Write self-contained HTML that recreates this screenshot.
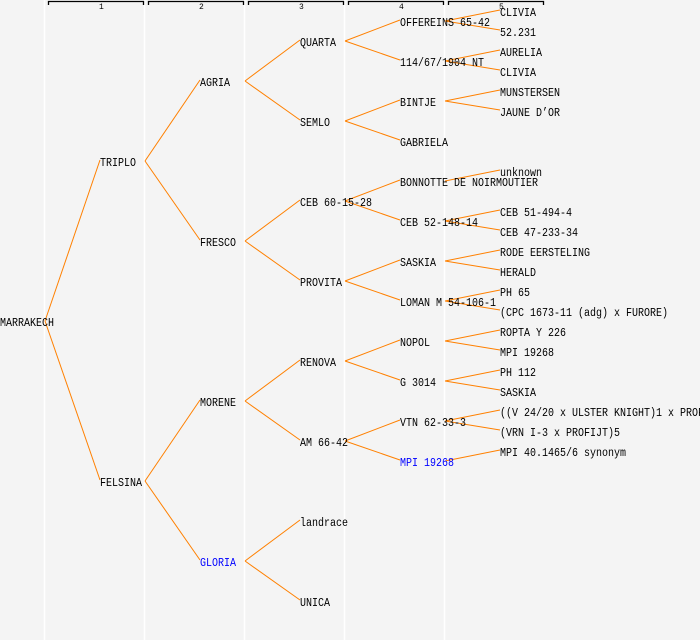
<!DOCTYPE html>
<html><head><meta charset="utf-8"><style>
html,body{margin:0;padding:0;background:#f4f4f4;}
svg{display:block;}
text{font-family:"Liberation Mono",monospace;font-size:11.5px;fill:#000;}
.b{fill:#0000ff;}
.h{font-size:8px;}
</style></head><body>
<svg id="s" width="700" height="640" xmlns="http://www.w3.org/2000/svg">
<rect width="700" height="640" fill="#f4f4f4"/>
<g stroke="#fff" stroke-width="1.5">
<line x1="44.5" y1="0" x2="44.5" y2="640"/><line x1="144.5" y1="0" x2="144.5" y2="640"/><line x1="244.5" y1="0" x2="244.5" y2="640"/><line x1="344.5" y1="0" x2="344.5" y2="640"/><line x1="444.5" y1="0" x2="444.5" y2="640"/>
</g>
<g stroke="#000" stroke-width="1.3" fill="none">
<path d="M48.5 5V1.5H143.5V5"/><path d="M148.5 5V1.5H243.5V5"/><path d="M248.5 5V1.5H343.5V5"/><path d="M348.5 5V1.5H443.5V5"/><path d="M448.5 5V1.5H543.5V5"/>
</g>
<text class="h" x="99" y="9">1</text><text class="h" x="199" y="9">2</text><text class="h" x="299" y="9">3</text><text class="h" x="399" y="9">4</text><text class="h" x="499" y="9">5</text>
<g id="L" stroke="#ff8000" stroke-width="1" fill="none"></g>
<g id="T"></g>
</svg>
<script>
var N=[
[0,322,"MARRAKECH",null],
[1,162,"TRIPLO",0],[1,482,"FELSINA",0],
[2,82,"AGRIA",1],[2,242,"FRESCO",1],[2,402,"MORENE",2],[2,562,"GLORIA",2,1],
[3,42,"QUARTA",3],[3,122,"SEMLO",3],[3,202,"CEB 60-15-28",4],[3,282,"PROVITA",4],[3,362,"RENOVA",5],[3,442,"AM 66-42",5],[3,522,"landrace",6],[3,602,"UNICA",6],
[4,22,"OFFEREINS 65-42",7],[4,62,"114/67/1904 NT",7],[4,102,"BINTJE",8],[4,142,"GABRIELA",8],[4,182,"BONNOTTE DE NOIRMOUTIER",9],[4,222,"CEB 52-148-14",9],[4,262,"SASKIA",10],[4,302,"LOMAN M 54-106-1",10],[4,342,"NOPOL",11],[4,382,"G 3014",11],[4,422,"VTN 62-33-3",12],[4,462,"MPI 19268",12,1],
[5,12,"CLIVIA",15],[5,32,"52.231",15],[5,52,"AURELIA",16],[5,72,"CLIVIA",16],[5,92,"MUNSTERSEN",17],[5,112,"JAUNE D\u2019OR",17],[5,172,"unknown",19],[5,212,"CEB 51-494-4",20],[5,232,"CEB 47-233-34",20],[5,252,"RODE EERSTELING",21],[5,272,"HERALD",21],[5,292,"PH 65",22],[5,312,"(CPC 1673-11 (adg) x FURORE)",22],[5,332,"ROPTA Y 226",23],[5,352,"MPI 19268",23],[5,372,"PH 112",24],[5,392,"SASKIA",24],[5,412,"((V 24/20 x ULSTER KNIGHT)1 x PROFIJT)",25],[5,432,"(VRN I-3 x PROFIJT)5",25],[5,452,"MPI 40.1465/6 synonym",26]
];
var ns="http://www.w3.org/2000/svg",L=document.getElementById("L"),T=document.getElementById("T");
N.forEach(function(n){
 var x=n[0]*100,y=n[1];
 if(n[3]!==null){var p=N[n[3]];var l=document.createElementNS(ns,"line");
 l.setAttribute("x1",p[0]*100+45);l.setAttribute("y1",p[1]-1);l.setAttribute("x2",x);l.setAttribute("y2",y-2);L.appendChild(l);}
 var t=document.createElementNS(ns,"text");t.setAttribute("x",x);t.setAttribute("y",y+4);
 t.setAttribute("textLength",n[2].length*6);t.setAttribute("lengthAdjust","spacingAndGlyphs");
 if(n[4])t.setAttribute("class","b");t.textContent=n[2];T.appendChild(t);
});
</script>
</body></html>
